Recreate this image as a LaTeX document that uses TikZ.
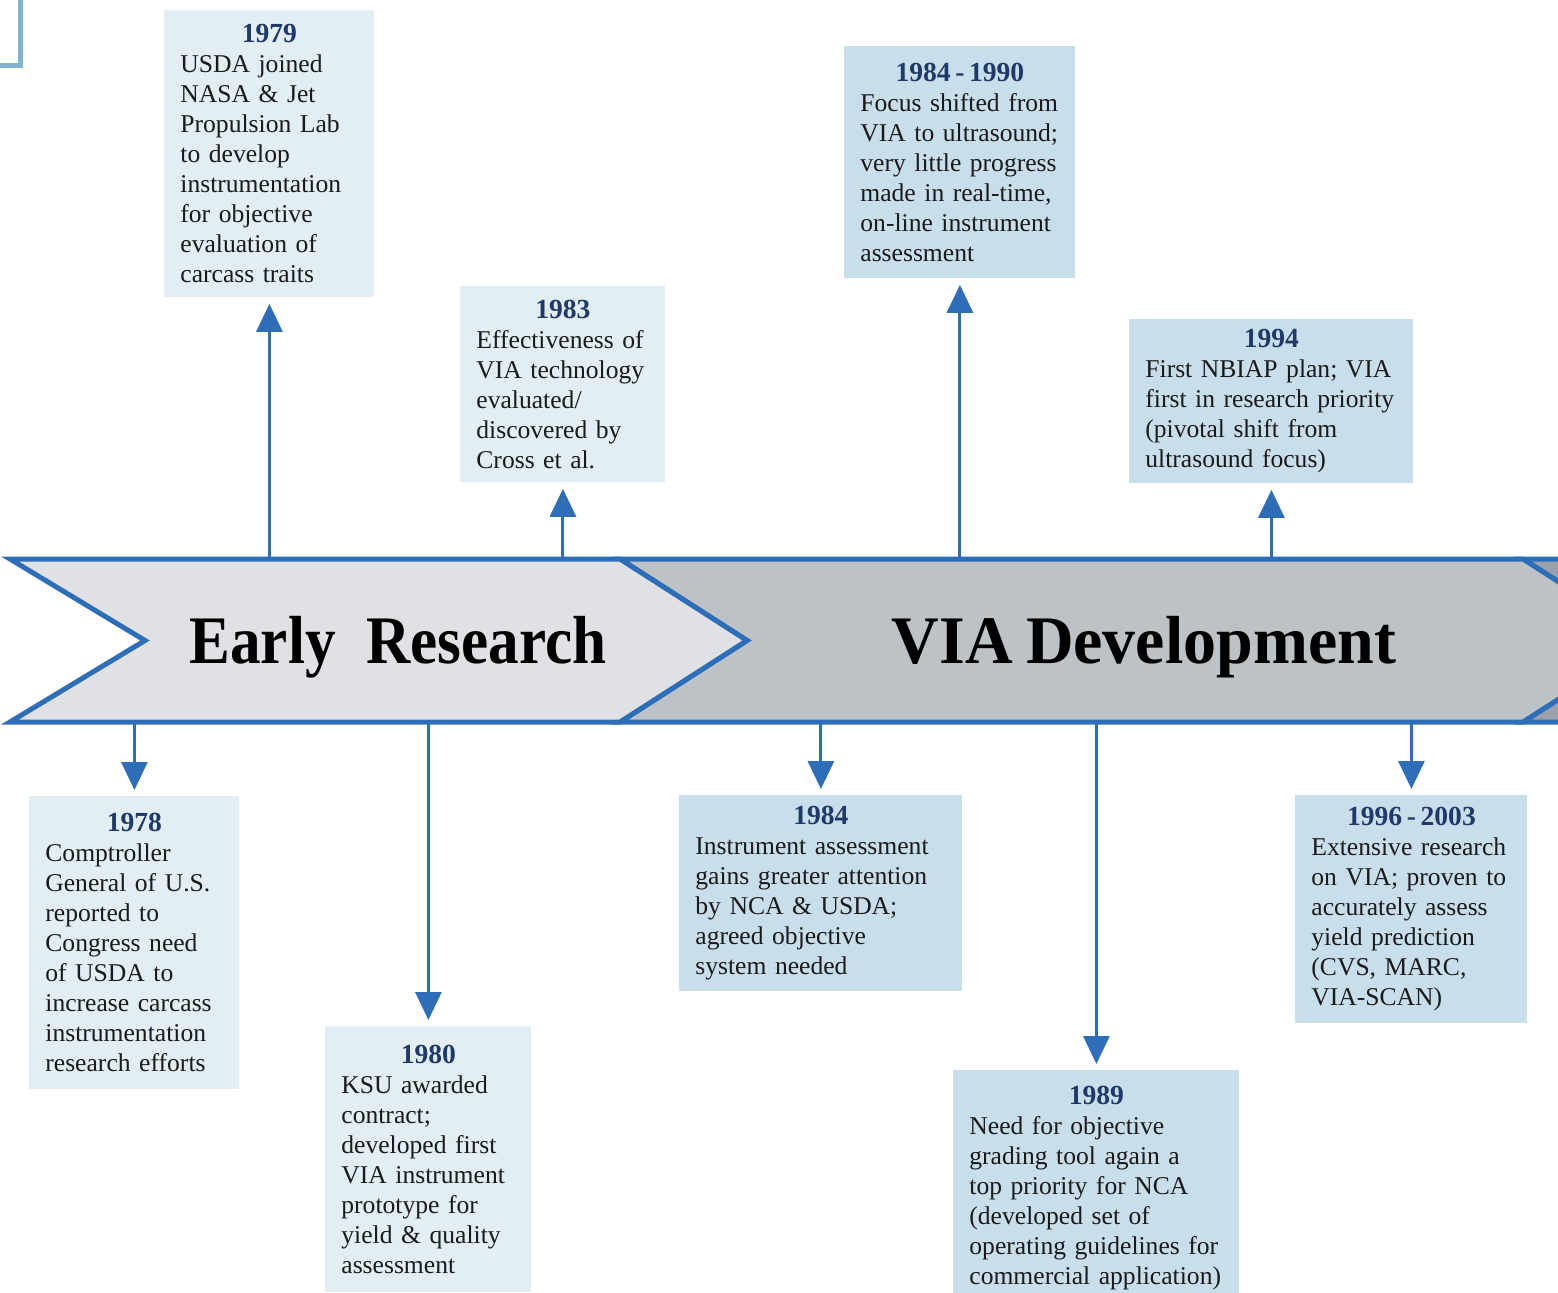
\documentclass[tikz,border=0pt]{standalone}
\usepackage{fontspec}
\usepackage{graphicx}
\setmainfont{Liberation Serif}[WordSpace=0.8]
\usetikzlibrary{arrows.meta}
\definecolor{lineblue}{HTML}{2E6DB8}
\definecolor{bracketblue}{HTML}{7FB4D6}
\definecolor{navy}{HTML}{1F3A68}
\definecolor{boxlight}{HTML}{E2EDF4}
\definecolor{boxmid}{HTML}{C9DEEB}
\definecolor{chevA}{HTML}{DFE1E4}
\definecolor{chevB}{HTML}{BDC2C7}
\definecolor{chevC}{HTML}{9BA1A8}
\definecolor{bodytext}{HTML}{1A1A1A}
\newcommand\evyear[1]{{\centering\fontsize{13.8}{15}\selectfont\textbf{\textcolor{navy}{#1}}\par}}
\begin{document}
\begin{tikzpicture}[x=0.5pt,y=-0.5pt,
  chev/.style={draw=lineblue, line width=2.5pt, line join=miter},
  evbox/.style={anchor=north west, inner xsep=8pt, inner ysep=0pt, align=left,
    font=\fontsize{12.8}{15}\selectfont, text=bodytext},
  earlybox/.style={evbox, fill=boxlight},
  viabox/.style={evbox, fill=boxmid},
  conn/.style={draw=lineblue, line width=1.5pt, -{Triangle[width=13pt,length=14pt]}, shorten >=3pt},
  title/.style={anchor=base, font=\fontsize{34}{40}\selectfont\bfseries, text=black, inner sep=0pt},
  bracket/.style={draw=bracketblue, line width=2.5pt}
]
\useasboundingbox (0,0) rectangle (1558,1292);

% corner bracket
\draw[bracket] (20,-10) -- (20,65) -- (-10,65);

% chevrons
\filldraw[chev, fill=chevC] (1523,559) -- (1700,559) -- (1700,722) -- (1523,722) -- (1650,640.5) -- cycle;
\filldraw[chev, fill=chevB] (620,559) -- (1523,559) -- (1650,640.5) -- (1523,722) -- (620,722) -- (747,640.5) -- cycle;
\filldraw[chev, fill=chevA] (10,559) -- (620,559) -- (747,640.5) -- (620,722) -- (10,722) -- (145,640.5) -- cycle;

\node[title] (tEarly) at (398,663) {\scalebox{0.9}[1]{Early\hspace{0.5em}Research}};
\node[title] (tVIA) at (1144,663) {\scalebox{0.97}[1]{VIA Development}};

\coordinate (top) at (0,559);
\coordinate (bot) at (0,722);

% upper boxes
\node[earlybox, text width=89pt, minimum height=143.5pt] (b1979) at (164,10)
  {\evyear{1979}USDA joined\\NASA \& Jet\\Propulsion Lab\\to develop\\instrumentation\\for objective\\evaluation of\\carcass traits};
\node[earlybox, text width=86.5pt, minimum height=98pt] (b1983) at (460,286)
  {\evyear{1983}Effectiveness of\\VIA technology\\evaluated/\\discovered by\\Cross et al.};
\node[viabox, text width=99.5pt, minimum height=116pt] (b8490) at (844,46)
  {\evyear{1984\,-\,1990}Focus shifted from\\VIA to ultrasound;\\very little progress\\made in real-time,\\on-line instrument\\assessment};
\node[viabox, text width=126pt, minimum height=82pt] (b1994) at (1129,319)
  {\evyear{1994}First NBIAP plan; VIA\\first in research priority\\(pivotal shift from\\ultrasound focus)};

% lower boxes
\node[earlybox, text width=89pt, minimum height=146.5pt] (b1978) at (29,796)
  {\evyear{1978}Comptroller\\General of U.S.\\reported to\\Congress need\\of USDA to\\increase carcass\\instrumentation\\research efforts};
\node[earlybox, text width=87pt, minimum height=133pt] (b1980) at (325,1026)
  {\evyear{1980}KSU awarded\\contract;\\developed first\\VIA instrument\\prototype for\\yield \& quality\\assessment};
\node[viabox, text width=125.5pt, minimum height=98pt] (b1984) at (679,795)
  {\evyear{1984}Instrument assessment\\gains greater attention\\by NCA \& USDA;\\agreed objective\\system needed};
\node[viabox, text width=127pt, minimum height=118pt] (b1989) at (953,1070)
  {\evyear{1989}Need for objective\\grading tool again a\\top priority for NCA\\(developed set of\\operating guidelines for\\commercial application)};
\node[viabox, text width=100pt, minimum height=114pt] (b9603) at (1295,795)
  {\evyear{1996\,-\,2003}Extensive research\\on VIA; proven to\\accurately assess\\yield prediction\\(CVS, MARC,\\VIA-SCAN)};

% connectors
\draw[conn] (b1979.south |- top) -- (b1979.south);
\draw[conn] (b1983.south |- top) -- (b1983.south);
\draw[conn] (b8490.south |- top) -- (b8490.south);
\draw[conn] (b1994.south |- top) -- (b1994.south);
\draw[conn] (b1978.north |- bot) -- (b1978.north);
\draw[conn] (b1980.north |- bot) -- (b1980.north);
\draw[conn] (b1984.north |- bot) -- (b1984.north);
\draw[conn] (b1989.north |- bot) -- (b1989.north);
\draw[conn] (b9603.north |- bot) -- (b9603.north);
\end{tikzpicture}
\end{document}
